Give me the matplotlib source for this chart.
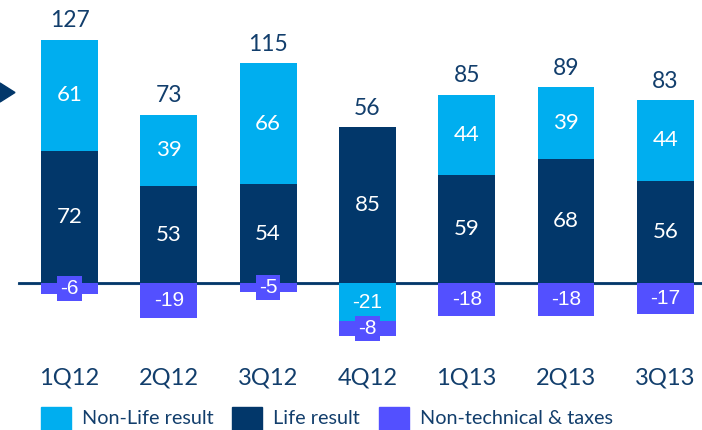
import numpy as np
import matplotlib
matplotlib.use("Agg")
import matplotlib.pyplot as plt
from matplotlib.patches import Rectangle, Polygon

quarters = ["1Q12", "2Q12", "3Q12", "4Q12", "1Q13", "2Q13", "3Q13"]
life = [72, 53, 54, 85, 59, 68, 56]
non_life = [61, 39, 66, -21, 44, 39, 44]
non_tech = [-6, -19, -5, -8, -18, -18, -17]
totals = [127, 73, 115, 56, 85, 89, 83]
series_names = ["Non-Life result", "Life result", "Non-technical & taxes"]

C_NONLIFE = "#00AEEF"
C_LIFE = "#02376A"
C_NONTECH = "#5350FF"
C_TEXT = "#123E6C"

FONT = "Lato"
W, H, DPI = 702, 430, 100

fig = plt.figure(figsize=(W / DPI, H / DPI), dpi=DPI)
ax = fig.add_axes([0, (H - 350) / H, 1, 350 / H])

px_per_unit = 1.83
step = 99.3
x0 = 69.5
ax.set_ylim(-(350 - 283) / px_per_unit, 283 / px_per_unit)
ax.set_xlim(-x0 / step, (W - x0) / step)

x = np.arange(len(quarters))
life_a = np.array(life, dtype=float)
nl_a = np.array(non_life, dtype=float)
nt_a = np.array(non_tech, dtype=float)

nl_bottom = np.where(nl_a >= 0, life_a, 0.0)
nt_bottom = np.minimum(nl_a, 0.0)
top = life_a + np.maximum(nl_a, 0.0)

bw = 0.573
ax.axhline(-0.6, xmin=19 / W, xmax=1, color="#A9BBCC", lw=1.6, zorder=1)
ax.axhline(0, xmin=19 / W, xmax=1, color=C_LIFE, lw=2.0, zorder=1.5)

ax.bar(x, life_a, bw, color=C_LIFE, zorder=2)
ax.bar(x, nl_a, bw, bottom=nl_bottom, color=C_NONLIFE, zorder=2)
ax.bar(x, nt_a, bw, bottom=nt_bottom, color=C_NONTECH, zorder=2)

for i in range(len(quarters)):
    ax.text(x[i], life_a[i] / 2, f"{life[i]}", ha="center", va="center",
            color="white", fontsize=16, family=FONT, zorder=3)
    ax.text(x[i], nl_bottom[i] + nl_a[i] / 2, f"{non_life[i]}", ha="center",
            va="center", color="white", fontsize=16 if nl_a[i] > 0 else 15,
            family=FONT if nl_a[i] > 0 else "Liberation Sans", zorder=3)
    ax.text(x[i], nt_bottom[i] + nt_a[i] / 2, f"{non_tech[i]}", ha="center",
            va="center", color="white", fontsize=15, family="Liberation Sans",
            zorder=4,
            bbox=dict(boxstyle="square,pad=0.15", fc=C_NONTECH, ec="none"))
    ax.annotate(f"{totals[i]}", (x[i], top[i]), xytext=(0, 19),
                textcoords="offset pixels", ha="center", va="center",
                color=C_TEXT, fontsize=16.5, family=FONT)

ax.set_xticks(x, quarters)
ax.tick_params(axis="x", length=0, pad=20.5, labelsize=17, labelcolor=C_TEXT)
for lbl in ax.get_xticklabels():
    lbl.set_family(FONT)
    lbl.set_va("center")
ax.set_yticks([])
for s in ax.spines.values():
    s.set_visible(False)
ax.patch.set_visible(False)

# pointer triangle at the left edge
fig.patches.append(Polygon([(0 / W, 1 - 83 / H), (15 / W, 1 - 92.5 / H), (0 / W, 1 - 102 / H)],
                           closed=True, transform=fig.transFigure,
                           color=C_LIFE))

# legend row
legend_colors = [C_NONLIFE, C_LIFE, C_NONTECH]
square_x = [41, 232, 379]
text_x = [82, 273, 420]
for name, col, sx, tx in zip(series_names, legend_colors, square_x, text_x):
    fig.patches.append(Rectangle((sx / W, 1 - 437 / H), 30 / W, 30 / H,
                                 transform=fig.transFigure, color=col))
    fig.text(tx / W, 1 - 418 / H, name, ha="left", va="center",
             fontsize=14.3, family=FONT, color=C_TEXT)

fig.savefig("out.png", dpi=DPI)
